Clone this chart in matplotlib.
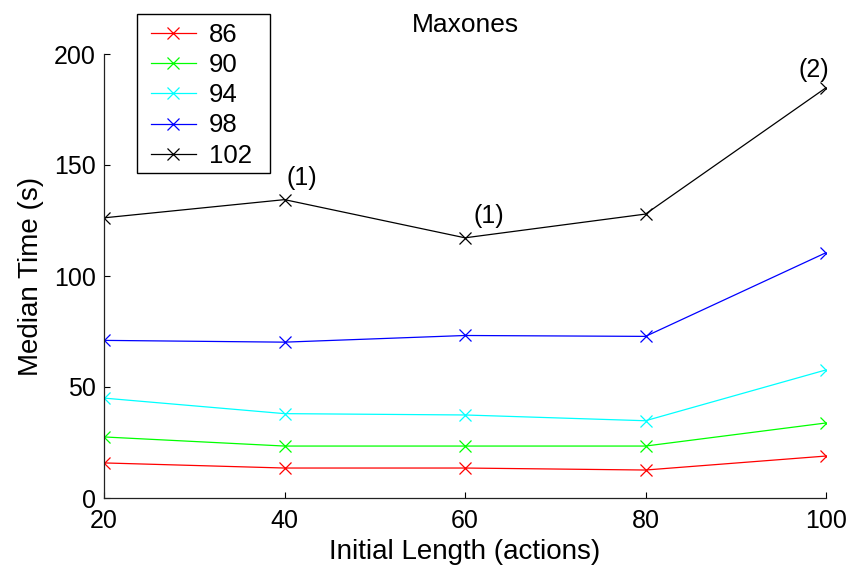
import matplotlib
matplotlib.use("Agg")
import matplotlib.pyplot as plt
from matplotlib.patches import Rectangle

# Initial length (actions)
lengths = [20, 40, 60, 80, 100]

# Median time (s) per series
series_names = ["86", "90", "94", "98", "102"]
t_86 = [15.8, 13.5, 13.5, 12.6, 18.9]
t_90 = [27.5, 23.4, 23.4, 23.4, 33.8]
t_94 = [45.0, 38.0, 37.4, 34.8, 57.7]
t_98 = [71.0, 70.2, 73.2, 72.8, 110.5]
t_102 = [126.2, 134.4, 117.2, 127.9, 184.8]
series_colors = ["#ff0000", "#00ff00", "#00ffff", "#0000ff", "#000000"]

# Annotations on the 102 series: (x, label)
notes = [(40, "(1)"), (60, "(1)"), (100, "(2)")]

plt.rcParams["font.family"] = ["Liberation Sans", "DejaVu Sans"]
FS_TICK = 18
FS_LAB = 20
W, H = 852, 570

fig = plt.figure(figsize=(W / 100, H / 100), dpi=100)
ax = fig.add_axes([104 / W, 1 - 498 / H, (826 - 104) / W, (498 - 54) / H])

all_series = [t_86, t_90, t_94, t_98, t_102]
for name, vals, col in zip(series_names, all_series, series_colors):
    ax.plot(lengths, vals, color=col, lw=0.9, marker="x", ms=9, mew=0.9, label=name)

# annotation offsets in points (dx, dy, ha)
offs = {40: (1.5, 7, "left"), 60: (6, 7, "left"), 100: (2, 4, "right")}
for xv, lab in notes:
    yv = t_102[lengths.index(xv)]
    dx, dy, ha = offs[xv]
    ax.annotate(lab, (xv, yv), xytext=(dx, dy), textcoords="offset points",
                ha=ha, va="bottom", fontsize=FS_TICK)

ax.set_xlim(20, 100)
ax.set_ylim(0, 200)
ax.set_xticks(lengths)
ax.set_yticks([0, 50, 100, 150, 200])
ax.spines["top"].set_visible(False)
ax.spines["right"].set_visible(False)
for s in ("left", "bottom"):
    ax.spines[s].set_linewidth(0.9)
    ax.spines[s].set_color("#222222")
ax.tick_params(direction="in", length=4.5, width=0.8, labelsize=FS_TICK)
ax.tick_params(axis="x", pad=8)
ax.tick_params(axis="y", pad=6)

ax.set_xlabel("Initial Length (actions)", fontsize=FS_LAB, labelpad=4)
ax.set_ylabel("Median Time (s)", fontsize=FS_LAB, labelpad=7)
ax.set_title("Maxones", fontsize=19, pad=16)

# legend without frame; MATLAB-like box drawn separately
leg = ax.legend(loc="upper left", bbox_to_anchor=(151 / W, 1 - 23 / H),
                bbox_transform=fig.transFigure, fontsize=18.5, frameon=False,
                handlelength=1.75, handletextpad=0.5, borderpad=0,
                labelspacing=0.24, borderaxespad=0)
fig.patches.append(Rectangle((137 / W, 1 - 173 / H), (270 - 137) / W, (173 - 14) / H,
                             transform=fig.transFigure, fill=False,
                             edgecolor="black", lw=1.0))

fig.savefig("out.png", dpi=100)
